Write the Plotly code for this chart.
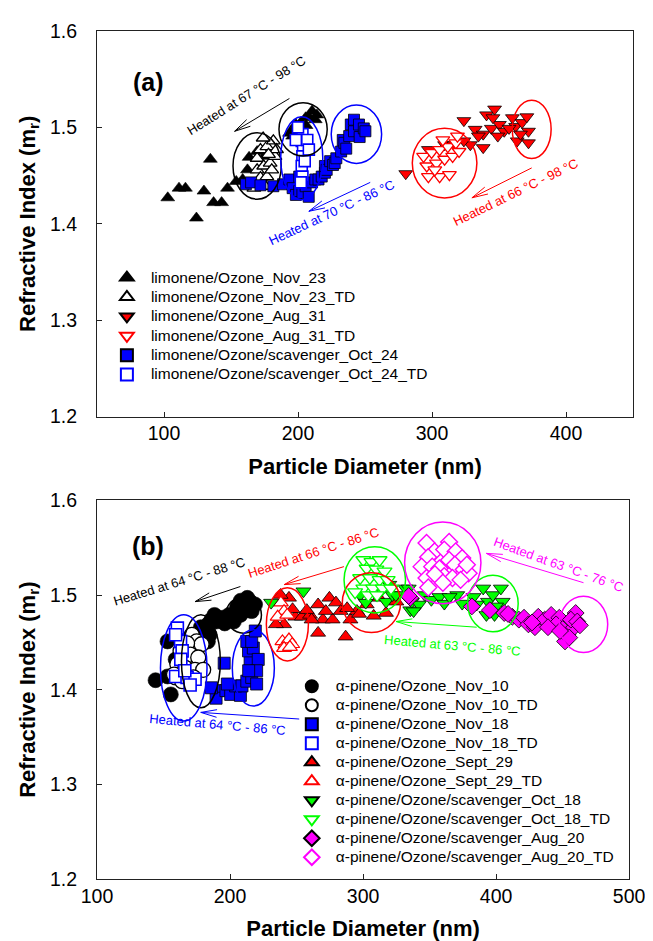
import math
import plotly.graph_objects as go

# ---------------- Panel (a): limonene ----------------
a_nov23_d = [102.8,111.2,116.0,124.2,129.8,134.6,137.0,143.0,147.4,153.9,158.7,162.3,163.5,169.5,175.0,193.6,196.0,197.3,198.4,202.1,205.7,208.1,210.5,212.9,214.1,200.0,206.0]
a_nov23_m = [1.427,1.437,1.437,1.406,1.434,1.467,1.422,1.422,1.437,1.444,1.446,1.456,1.469,1.475,1.470,1.494,1.491,1.499,1.503,1.505,1.510,1.511,1.517,1.508,1.513,1.497,1.502]
a_nov23td_d = [169.5,172.0,176.8,181.6,169.5,174.4,179.2,182.8,172.0,176.8,175.6,167.1,180.4,184.0,174.0,178.0]
a_nov23td_m = [1.468,1.477,1.480,1.486,1.456,1.460,1.463,1.470,1.448,1.449,1.439,1.437,1.456,1.477,1.489,1.472]
a_aug31_d = [280.4,323.8,340.7,346.7,332.2,338.2,344.3,350.3,353.9,360.0,362.4,367.2,370.8,372.0,363.6,372.0,338.2,328.6,334.6,345.5,357.5,366.0,349.1,323.8,297.3,309.4,316.5]
a_aug31_m = [1.452,1.507,1.513,1.519,1.498,1.493,1.499,1.503,1.496,1.510,1.501,1.505,1.511,1.496,1.486,1.484,1.479,1.482,1.491,1.510,1.499,1.493,1.491,1.486,1.477,1.482,1.482]
a_aug31td_d = [293.7,299.7,305.7,311.8,317.8,296.1,303.3,309.4,315.4,297.3,305.7,313.0,302.1,320.2,308.1,319.0]
a_aug31td_m = [1.470,1.474,1.477,1.480,1.484,1.460,1.463,1.467,1.470,1.449,1.449,1.451,1.456,1.475,1.487,1.491]
a_oct24_d = [161.1,165.0,172.0,181.6,188.8,193.6,196.0,198.4,200.9,200.9,203.3,205.7,208.0,210.5,212.9,215.3,217.7,220.1,220.1,221.4,224.0,226.1,227.4,228.6,232.2,233.4,234.6,236.0,238.2,239.4,241.8,241.8,245.5,246.0,249.1,250.3]
a_oct24_m = [1.441,1.443,1.440,1.439,1.441,1.446,1.437,1.430,1.434,1.449,1.432,1.439,1.428,1.443,1.446,1.446,1.449,1.453,1.460,1.456,1.465,1.461,1.463,1.468,1.475,1.487,1.484,1.478,1.491,1.503,1.496,1.508,1.503,1.490,1.499,1.496]
a_oct24td_d = [203.3,202.8,203.8,203.3,202.8,203.3,202.1,206.9,208.1,198.4,205.0,200.0]
a_oct24td_m = [1.493,1.486,1.479,1.470,1.460,1.449,1.443,1.487,1.477,1.487,1.465,1.500]

# ---------------- Panel (b): alpha-pinene ----------------
b_nov10_d = [144.0,155.5,153.0,159.1,153.0,178.0,183.4,184.7,188.3,194.4,199.3,205.3,210.2,215.1,218.8,216.3,212.0,207.8,202.9,189.6,186.0,183.4,213.0,208.0,196.0]
b_nov10_m = [1.410,1.395,1.414,1.432,1.451,1.466,1.451,1.458,1.479,1.476,1.479,1.488,1.492,1.493,1.490,1.483,1.484,1.479,1.472,1.472,1.474,1.469,1.497,1.494,1.470]
b_nov10td_d = [171.3,174.9,178.6,167.7,162.8,170.1,176.1,160.4,166.4,173.7,179.8,159.1,164.0,172.5,157.9]
b_nov10td_m = [1.458,1.451,1.448,1.449,1.441,1.437,1.434,1.427,1.423,1.421,1.421,1.413,1.409,1.413,1.416]
b_nov18_d = [195.6,190.7,189.5,196.9,200.5,207.8,204.2,209.0,212.6,216.3,220.0,218.8,215.1,213.9,217.5,212.6,216.3,221.2,220.0,198.0,186.0,219.0,214.0]
b_nov18_m = [1.428,1.399,1.391,1.399,1.395,1.394,1.404,1.404,1.409,1.413,1.406,1.427,1.432,1.441,1.444,1.451,1.451,1.432,1.420,1.406,1.402,1.462,1.420]
b_nov18td_d = [160.4,162.8,164.0,159.1,167.7,173.7,159.1,163.0,166.0,170.0]
b_nov18td_m = [1.465,1.451,1.441,1.414,1.413,1.411,1.458,1.432,1.420,1.405]
b_sept29_d = [244.3,240.6,234.5,249.1,254.0,260.1,266.2,266.2,269.8,274.7,277.1,279.6,283.2,290.5,286.9,261.3,257.7,295.4,302.7,317.2,247.0,272.0,288.0,308.0,325.0,312.0,297.0,238.0]
b_sept29_m = [1.497,1.469,1.469,1.477,1.477,1.479,1.490,1.460,1.474,1.497,1.474,1.492,1.483,1.474,1.456,1.474,1.484,1.483,1.490,1.481,1.485,1.483,1.486,1.478,1.493,1.497,1.480,1.500]
b_sept29td_d = [238.2,240.6,235.8,243.0,239.4,241.8,244.3,246.7,240.6,245.0]
b_sept29td_m = [1.492,1.483,1.477,1.479,1.451,1.448,1.453,1.448,1.444,1.445]
b_oct18_d = [255.2,230.9,297.8,302.0,310.0,317.3,322.1,331.8,335.5,319.7,324.6,336.7,334.3,346.4,351.3,357.4,361.1,370.8,374.5,383.0,390.3,393.9,397.6,403.6,404.9,392.7,398.8,385.4,342.0,365.0,400.0,338.0,314.0]
b_oct18_m = [1.504,1.492,1.500,1.492,1.500,1.493,1.500,1.507,1.484,1.511,1.500,1.493,1.507,1.500,1.495,1.498,1.491,1.500,1.491,1.498,1.507,1.493,1.500,1.507,1.493,1.479,1.479,1.490,1.490,1.498,1.488,1.483,1.505]
b_oct18td_d = [300.2,306.3,312.4,302.7,310.0,316.1,297.8,305.1,312.4,318.5,300.2,307.5,314.8,303.9,310.5,294.0,321.0]
b_oct18td_m = [1.537,1.535,1.537,1.528,1.527,1.525,1.518,1.518,1.516,1.516,1.507,1.507,1.507,1.500,1.500,1.503,1.507]
b_aug20_d = [335.5,334.3,381.8,395.3,406.1,412.2,417.1,421.0,424.3,429.2,431.7,436.5,441.4,447.5,445.1,439.0,450.0,453.6,458.6,459.8,456.2,461.0,451.8,455.0,427.0,409.0,448.0,463.0]
b_aug20_m = [1.497,1.499,1.488,1.484,1.481,1.477,1.474,1.476,1.469,1.466,1.477,1.474,1.479,1.476,1.469,1.466,1.464,1.458,1.466,1.481,1.474,1.472,1.451,1.455,1.471,1.480,1.462,1.468]
b_aug20td_d = [347.7,353.8,364.7,361.0,369.6,374.5,348.9,344.0,352.0,357.4,364.7,369.0,375.7,379.3,361.0,347.7,354.0,367.2,373.3,360.0,349.0,378.0]
b_aug20td_m = [1.555,1.546,1.556,1.548,1.546,1.539,1.540,1.530,1.530,1.528,1.537,1.532,1.527,1.523,1.520,1.518,1.522,1.518,1.516,1.513,1.508,1.532]

y_ticks = [1.2, 1.3, 1.4, 1.5, 1.6]
xa_ticks = [100, 200, 300, 400]
xb_ticks = [100, 200, 300, 400, 500]

BLACK, BLUE, RED, GREEN, MAG = "#000000", "#0000FF", "#FF0000", "#00FF00", "#FF00FF"
FONT = "Liberation Sans, Arial, sans-serif"
LEG_TXT = 15.5

fig = go.Figure()

def add(d, m, name, symbol, fill, edge, lw, size, xa, ya, legend):
    fig.add_trace(go.Scatter(
        x=d, y=m, mode="markers", xaxis=xa, yaxis=ya, legend=legend,
        name='<span style="font-size:%gpx">%s</span>' % (LEG_TXT, name),
        marker=dict(symbol=symbol, size=size, color=fill, line=dict(color=edge, width=lw))))

# panel (a)
add(a_nov23_d, a_nov23_m, "limonene/Ozone_Nov_23", "triangle-up", BLACK, BLACK, 0.6, 12, "x", "y", "legend")
add(a_nov23td_d, a_nov23td_m, "limonene/Ozone_Nov_23_TD", "triangle-up", "white", BLACK, 1.3, 12, "x", "y", "legend")
add(a_aug31_d, a_aug31_m, "limonene/Ozone_Aug_31", "triangle-down", RED, BLACK, 0.8, 12, "x", "y", "legend")
add(a_aug31td_d, a_aug31td_m, "limonene/Ozone_Aug_31_TD", "triangle-down", "white", RED, 1.3, 12, "x", "y", "legend")
add(a_oct24_d, a_oct24_m, "limonene/Ozone/scavenger_Oct_24", "square", BLUE, BLACK, 0.8, 11, "x", "y", "legend")
add(a_oct24td_d, a_oct24td_m, "limonene/Ozone/scavenger_Oct_24_TD", "square", "white", BLUE, 1.6, 11, "x", "y", "legend")

# panel (b)
add(b_nov10_d, b_nov10_m, "\u03b1-pinene/Ozone_Nov_10", "circle", BLACK, BLACK, 0.6, 15, "x2", "y2", "legend2")
add(b_nov10td_d, b_nov10td_m, "\u03b1-pinene/Ozone_Nov_10_TD", "circle", "white", BLACK, 1.3, 15, "x2", "y2", "legend2")
add(b_nov18_d, b_nov18_m, "\u03b1-pinene/Ozone_Nov_18", "square", BLUE, BLACK, 0.8, 12, "x2", "y2", "legend2")
add(b_nov18td_d, b_nov18td_m, "\u03b1-pinene/Ozone_Nov_18_TD", "square", "white", BLUE, 1.6, 12, "x2", "y2", "legend2")
add(b_sept29_d, b_sept29_m, "\u03b1-pinene/Ozone_Sept_29", "triangle-up", RED, BLACK, 0.8, 13, "x2", "y2", "legend2")
add(b_sept29td_d, b_sept29td_m, "\u03b1-pinene/Ozone_Sept_29_TD", "triangle-up", "white", RED, 1.2, 13, "x2", "y2", "legend2")
add(b_oct18_d, b_oct18_m, "\u03b1-pinene/Ozone/scavenger_Oct_18", "triangle-down", GREEN, BLACK, 0.8, 13, "x2", "y2", "legend2")
add(b_oct18td_d, b_oct18td_m, "\u03b1-pinene/Ozone/scavenger_Oct_18_TD", "triangle-down", "white", GREEN, 1.3, 13, "x2", "y2", "legend2")
add(b_aug20_d, b_aug20_m, "\u03b1-pinene/Ozone/scavenger_Aug_20", "diamond", MAG, BLACK, 0.8, 13, "x2", "y2", "legend2")
add(b_aug20td_d, b_aug20td_m, "\u03b1-pinene/Ozone/scavenger_Aug_20_TD", "diamond", "white", MAG, 1.4, 13, "x2", "y2", "legend2")

# ---- annotation geometry (ellipses, arrows, labels) in data units ----
ell_a = [(169.5,1.460,18.0,0.0344,BLACK),(203.8,1.498,18.0,0.0276,BLACK),
         (202.8,1.468,15.7,0.0430,BLUE),(243.6,1.493,18.8,0.0303,BLUE),
         (309.4,1.463,24.1,0.0362,RED),(374.4,1.498,14.5,0.0303,RED)]
ell_b = [(210.2,1.479,13.4,0.0193,BLACK),(178.1,1.430,14.6,0.0491,BLACK),
         (165.2,1.423,17.5,0.0561,BLUE),(217.5,1.423,15.8,0.0403,BLUE),
         (243.1,1.469,15.8,0.0386,RED),(306.3,1.492,21.9,0.0316,RED),
         (308.8,1.516,23.1,0.0350,GREEN),(397.6,1.491,19.0,0.0298,GREEN),
         (359.9,1.534,28.7,0.0432,MAG),(465.7,1.469,18.2,0.0298,MAG)]
arr_a = [((193.6,1.530),(152.7,1.496),BLACK),((253.9,1.443),(208.1,1.413),BLUE),
         ((374.4,1.458),(329.8,1.427),RED)]
arr_b = [((207.8,1.509),(173.7,1.493),BLACK),((285.6,1.530),(240.7,1.511),RED),
         ((385.4,1.466),(324.8,1.472),GREEN),((465.7,1.513),(392.7,1.544),MAG),
         ((252.0,1.369),(178.0,1.376),BLUE)]
txt_a = [("Heated at 67 \u00b0C - 98 \u00b0C",161.5,1.533,-32,BLACK),
         ("Heated at 70 \u00b0C - 86 \u00b0C",225.0,1.412,-25,BLUE),
         ("Heated at 66 \u00b0C - 98 \u00b0C",362.0,1.433,-26,RED)]
txt_b = [("Heated at 64 \u00b0C - 88 \u00b0C",162.0,1.514,-17,BLACK),
         ("Heated at 66 \u00b0C - 86 \u00b0C",263.1,1.545,-18,RED),
         ("Heated at 63 \u00b0C - 86 \u00b0C",367.4,1.447,5,GREEN),
         ("Heated at 63 \u00b0C - 76 \u00b0C",446.8,1.532,20,MAG),
         ("Heated at 64 \u00b0C - 86 \u00b0C",190.5,1.363,5,BLUE)]

# pixel scale of each panel (px per data unit) for arrowhead geometry
SC = {"a": (1.383, 967.5, "x", "y"), "b": (1.37, 950.0, "x2", "y2")}

shapes = []
annotations = []

def ellipses(lst, key):
    _, _, xr, yr = SC[key]
    for cx, cy, hw, hh, col in lst:
        shapes.append(dict(type="circle", xref=xr, yref=yr, x0=cx-hw, x1=cx+hw,
                           y0=cy-hh, y1=cy+hh, line=dict(color=col, width=1.5)))

def arrows(lst, key):
    sx, sy, xr, yr = SC[key]
    for (tx, ty), (hx, hy), col in lst:
        shapes.append(dict(type="line", xref=xr, yref=yr, x0=tx, y0=ty, x1=hx, y1=hy,
                           line=dict(color=col, width=1)))
        ux, uy = (tx-hx)*sx, -(ty-hy)*sy
        n = math.hypot(ux, uy); ux, uy = ux/n, uy/n
        for s in (1, -1):
            a = math.radians(13*s)
            wx = ux*math.cos(a) - uy*math.sin(a)
            wy = ux*math.sin(a) + uy*math.cos(a)
            L = 17
            shapes.append(dict(type="line", xref=xr, yref=yr, x0=hx, y0=hy,
                               x1=hx + wx*L/sx, y1=hy - wy*L/sy,
                               line=dict(color=col, width=1)))

def texts(lst, key):
    _, _, xr, yr = SC[key]
    for t, x, y, ang, col in lst:
        annotations.append(dict(text=t, x=x, y=y, xref=xr, yref=yr, showarrow=False,
                                textangle=ang, xanchor="center", yanchor="middle",
                                font=dict(family=FONT, size=13, color=col)))

ellipses(ell_a, "a"); ellipses(ell_b, "b")
arrows(arr_a, "a"); arrows(arr_b, "b")
texts(txt_a, "a"); texts(txt_b, "b")

annotations.append(dict(text="<b>(a)</b>", x=88.3, y=1.547, xref="x", yref="y", showarrow=False,
                        font=dict(family=FONT, size=25, color=BLACK)))
annotations.append(dict(text="<b>(b)</b>", x=138.3, y=1.552, xref="x2", yref="y2", showarrow=False,
                        font=dict(family=FONT, size=25, color=BLACK)))

axis_common = dict(showline=True, mirror=True, linecolor="#222", linewidth=1.2,
                   ticks="inside", ticklen=5, tickwidth=1, tickcolor="#222",
                   showgrid=False, zeroline=False,
                   tickfont=dict(family=FONT, size=19.5, color=BLACK))
xtitle = dict(text="<b>Particle Diameter (nm)</b>", font=dict(family=FONT, size=22, color=BLACK), standoff=15)
ytitle = dict(text="<b>Refractive Index (m<sub>r</sub>)</b>", font=dict(family=FONT, size=22, color=BLACK), standoff=8)

fig.update_layout(
    width=653, height=941,
    margin=dict(l=89, r=12, t=21, b=69),
    paper_bgcolor="white", plot_bgcolor="white",
    font=dict(family=FONT, color=BLACK),
    xaxis=dict(axis_common, domain=[0, 1], range=[50, 450], tickvals=xa_ticks,
               anchor="y", title=xtitle, ticklabelstandoff=-1),
    yaxis=dict(axis_common, domain=[0.5452, 1], range=[1.2, 1.6], tickvals=y_ticks,
               tickformat=".1f", anchor="x", title=ytitle, ticklabelstandoff=15),
    xaxis2=dict(axis_common, domain=[0, 0.9928], range=[100, 500], tickvals=xb_ticks,
                anchor="y2", title=xtitle, ticklabelstandoff=-1),
    yaxis2=dict(axis_common, domain=[0, 0.4465], range=[1.2, 1.6], tickvals=y_ticks,
                tickformat=".1f", anchor="x2", title=ytitle, ticklabelstandoff=15),
    legend=dict(x=0.011, y=0.7265, xanchor="left", yanchor="top", bgcolor="rgba(0,0,0,0)",
                font=dict(family=FONT, size=12.6, color=BLACK), itemwidth=38,
                tracegroupgap=0, itemsizing="constant"),
    legend2=dict(x=0.356, y=0.2444, xanchor="left", yanchor="top", bgcolor="rgba(0,0,0,0)",
                 font=dict(family=FONT, size=12.2, color=BLACK), itemwidth=38,
                 tracegroupgap=0, itemsizing="constant"),
    shapes=shapes, annotations=annotations,
)

fig.write_html("out.html")
